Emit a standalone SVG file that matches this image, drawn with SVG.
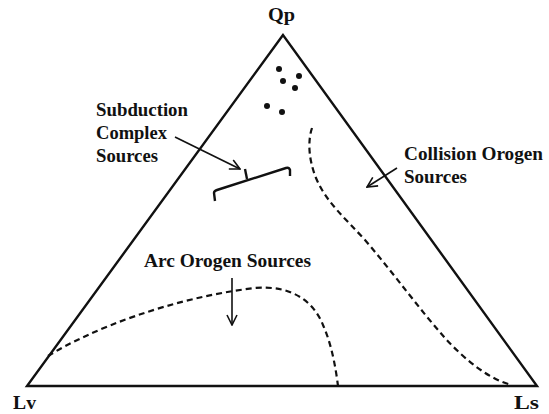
<svg xmlns="http://www.w3.org/2000/svg" width="549" height="414" viewBox="0 0 549 414">
  <style>
    .lbl { font-family: "Liberation Serif", "Times New Roman", serif; font-weight: bold; font-size: 18px; fill: #111; }
    .edge { fill: none; stroke: #111; stroke-width: 2.4; stroke-linejoin: miter; }
    .dash { fill: none; stroke: #111; stroke-width: 2.2; stroke-dasharray: 6 4; }
    .ptr { fill: none; stroke: #111; stroke-width: 1.6; }
    .dot { fill: #111; }
  </style>
  <defs>
    <marker id="head" viewBox="0 0 12 12" refX="11" refY="6" markerWidth="12" markerHeight="12" markerUnits="userSpaceOnUse" orient="auto">
      <path d="M1,1 L11,6 L1,11" fill="none" stroke="#111" stroke-width="1.6"/>
    </marker>
  </defs>

  <rect width="549" height="414" fill="#fff"/>

  <!-- ternary frame -->
  <g id="triangle">
    <path class="edge" d="M283,35 L27,386 L537,386 Z"/>
  </g>

  <!-- apex labels -->
  <g id="apex-qp"><text class="lbl" x="268" y="21" textLength="27" lengthAdjust="spacingAndGlyphs">Qp</text></g>
  <g id="apex-lv"><text class="lbl" x="13" y="409" textLength="23" lengthAdjust="spacingAndGlyphs">Lv</text></g>
  <g id="apex-ls"><text class="lbl" x="514" y="409" textLength="25" lengthAdjust="spacingAndGlyphs">Ls</text></g>

  <!-- sample points -->
  <g id="samples">
    <circle class="dot" cx="279" cy="69" r="3"/>
    <circle class="dot" cx="283" cy="81" r="3"/>
    <circle class="dot" cx="299" cy="76" r="3"/>
    <circle class="dot" cx="295" cy="88" r="3"/>
    <circle class="dot" cx="267" cy="106" r="3"/>
    <circle class="dot" cx="282" cy="112" r="3"/>
  </g>

  <!-- field boundaries -->
  <g id="boundaries">
    <path class="dash" d="M312,128 C308,140 308,158 316,178 C326,202 345,218 365,240 C395,275 420,310 445,338 C465,360 490,380 512,385"/>
    <path class="dash" d="M48,356 C90,330 170,298 255,288 C290,285 313,300 323,325 C332,345 336,370 338,386"/>
  </g>

  <!-- subduction complex bracket -->
  <g id="bracket">
    <path class="edge" stroke-width="2" d="M215,201 L214,193 Q214,191 217,190 L286,168 Q289,167 290,170 L290,176"/>
    <path class="edge" stroke-width="2" d="M247,179 L245,169"/>
  </g>

  <!-- region labels -->
  <g id="label-subduction">
    <text class="lbl" x="96" y="116" textLength="92" lengthAdjust="spacingAndGlyphs">Subduction</text>
    <text class="lbl" x="96" y="139" textLength="71" lengthAdjust="spacingAndGlyphs">Complex</text>
    <text class="lbl" x="96" y="162" textLength="62" lengthAdjust="spacingAndGlyphs">Sources</text>
  </g>
  <g id="label-collision">
    <text class="lbl" x="404" y="160" textLength="139" lengthAdjust="spacingAndGlyphs">Collision Orogen</text>
    <text class="lbl" x="404" y="183" textLength="63" lengthAdjust="spacingAndGlyphs">Sources</text>
  </g>
  <g id="label-arc">
    <text class="lbl" x="144" y="267" textLength="167" lengthAdjust="spacingAndGlyphs">Arc Orogen Sources</text>
  </g>

  <!-- pointers -->
  <g id="connectors">
    <path class="ptr" d="M175,137 L240,169" marker-end="url(#head)"/>
    <path class="ptr" d="M397,168 L367,187" marker-end="url(#head)"/>
    <path class="ptr" d="M232,278 L232,325" marker-end="url(#head)"/>
  </g>
</svg>
